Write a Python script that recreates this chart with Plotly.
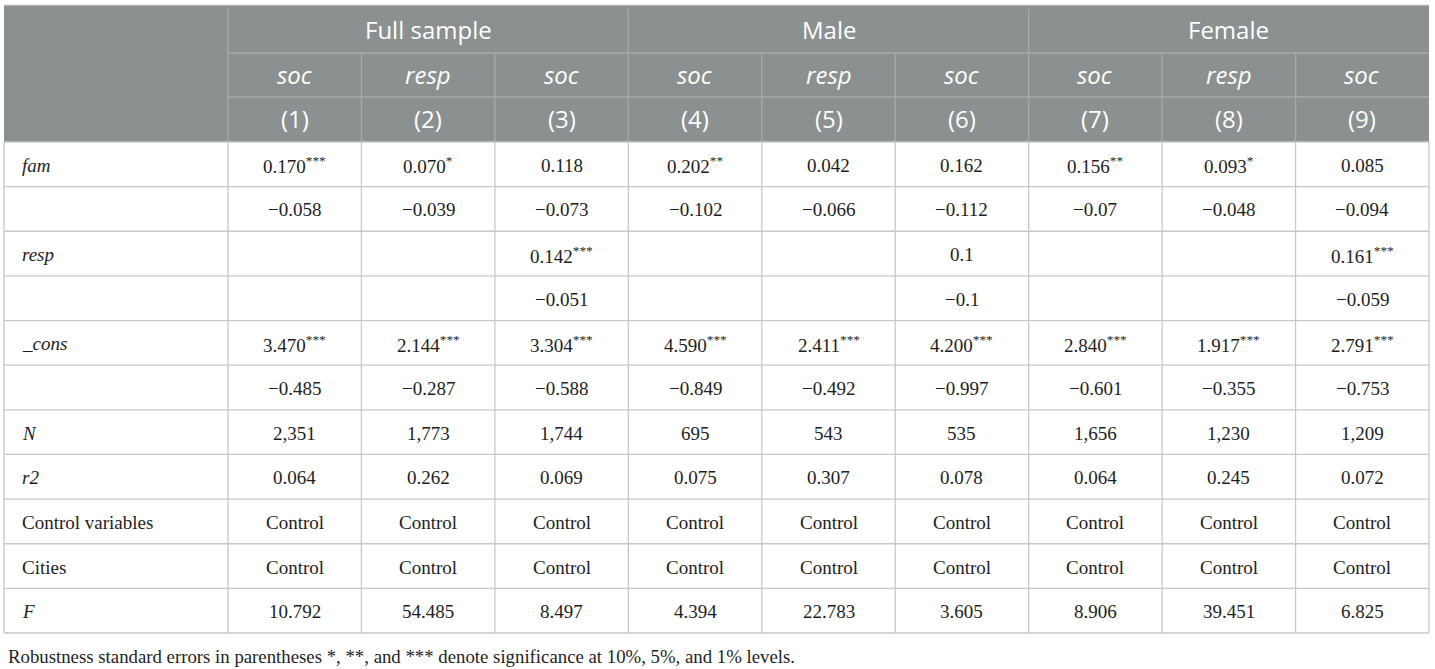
import plotly.graph_objects as go

# ---------------- data ----------------
groups = ["Full sample", "Male", "Female"]
dep_vars = ["soc", "resp", "soc", "soc", "resp", "soc", "soc", "resp", "soc"]
col_nums = ["(1)", "(2)", "(3)", "(4)", "(5)", "(6)", "(7)", "(8)", "(9)"]

row_labels = ["fam", "", "resp", "", "_cons", "", "N", "r2",
              "Control variables", "Cities", "F"]
row_italic = [True, False, True, False, True, False, True, True, False, False, True]

fam_coef = ["0.170***", "0.070*", "0.118", "0.202**", "0.042", "0.162", "0.156**", "0.093*", "0.085"]
fam_se = ["−0.058", "−0.039", "−0.073", "−0.102", "−0.066", "−0.112", "−0.07", "−0.048", "−0.094"]
resp_coef = ["", "", "0.142***", "", "", "0.1", "", "", "0.161***"]
resp_se = ["", "", "−0.051", "", "", "−0.1", "", "", "−0.059"]
cons_coef = ["3.470***", "2.144***", "3.304***", "4.590***", "2.411***", "4.200***", "2.840***", "1.917***", "2.791***"]
cons_se = ["−0.485", "−0.287", "−0.588", "−0.849", "−0.492", "−0.997", "−0.601", "−0.355", "−0.753"]
n_obs = ["2,351", "1,773", "1,744", "695", "543", "535", "1,656", "1,230", "1,209"]
r2 = ["0.064", "0.262", "0.069", "0.075", "0.307", "0.078", "0.064", "0.245", "0.072"]
controls = ["Control"] * 9
cities = ["Control"] * 9
f_stat = ["10.792", "54.485", "8.497", "4.394", "22.783", "3.605", "8.906", "39.451", "6.825"]

footnote = "Robustness standard errors in parentheses *, **, and *** denote significance at 10%, 5%, and 1% levels."

body = [fam_coef, fam_se, resp_coef, resp_se, cons_coef, cons_se, n_obs, r2, controls, cities, f_stat]

# ---------------- layout geometry ----------------
W, H = 1435, 669
X0, X1 = 4, 1429          # table left/right
XC = 228                  # first column right edge
ncol = 9
cw = (X1 - XC) / ncol
hdr_y = [5, 53, 97, 142]  # header row boundaries
Y_END = 633
nrow = len(row_labels)
rh = (Y_END - hdr_y[-1]) / nrow

HDR_BG = "#8b9090"
HDR_LINE = "#a6abab"
BODY_LINE = "#c8c8c8"
TXT = "#1e1e1e"

shapes = []
ann = []

def line(x0, y0, x1, y1, color, w=1.3):
    shapes.append(dict(type="line", xref="x", yref="y", x0=x0, y0=y0, x1=x1, y1=y1,
                       line=dict(color=color, width=w), layer="above"))

# header background
shapes.append(dict(type="rect", xref="x", yref="y", x0=X0, x1=X1, y0=hdr_y[0], y1=hdr_y[3],
                   fillcolor=HDR_BG, line=dict(width=0), layer="below"))

# header lines
line(XC, hdr_y[1], X1, hdr_y[1], HDR_LINE)
line(XC, hdr_y[2], X1, hdr_y[2], HDR_LINE)
for g in range(len(groups)):
    line(XC + 3 * g * cw, hdr_y[0] + 4, XC + 3 * g * cw, hdr_y[3], HDR_LINE)
for c in range(1, ncol):
    if c % 3:
        line(XC + c * cw, hdr_y[1], XC + c * cw, hdr_y[3], HDR_LINE)

# body lines
for r in range(nrow + 1):
    y = hdr_y[3] + r * rh
    line(X0, y, X1, y, BODY_LINE)
for c in range(ncol + 1):
    line(XC + c * cw, hdr_y[3], XC + c * cw, Y_END, BODY_LINE)
line(X0, hdr_y[3], X0, Y_END, BODY_LINE)
# outer top border
line(X0, hdr_y[0], X1, hdr_y[0], "#d5d5d5", 1)

SANS = "Open Sans"
SERIF = "Liberation Serif"

def text(x, y, s, size, color, family, xanchor="center"):
    ann.append(dict(x=x, y=y, xref="x", yref="y", text=s, showarrow=False,
                    xanchor=xanchor, yanchor="middle",
                    font=dict(family=family, size=size, color=color)))

# header text
for g, name in enumerate(groups):
    text(XC + (3 * g + 1.5) * cw, (hdr_y[0] + hdr_y[1]) / 2, name, 24, "white", SANS)
for c in range(ncol):
    xc = XC + (c + 0.5) * cw
    text(xc, (hdr_y[1] + hdr_y[2]) / 2 - 1, "<i>" + dep_vars[c] + "</i>", 24, "white", SANS)
    text(xc, (hdr_y[2] + hdr_y[3]) / 2 - 1, col_nums[c], 24, "white", SANS)

def fmt(s):
    if s.endswith("*"):
        base = s.rstrip("*")
        stars = s[len(base):]
        return base + "<sup>" + stars + "</sup>"
    return s

# body text
for r in range(nrow):
    yc = hdr_y[3] + (r + 0.5) * rh + 1
    lab = row_labels[r]
    if lab:
        text(20, yc, "<i>" + lab + "</i>" if row_italic[r] else lab, 19, TXT, SERIF, "left")
    for c in range(ncol):
        v = body[r][c]
        if v:
            text(XC + (c + 0.5) * cw, yc, fmt(v), 19, TXT, SERIF)

text(6, 656, footnote, 18.8, TXT, SERIF, "left")

fig = go.Figure()
fig.update_layout(
    width=W, height=H,
    margin=dict(l=0, r=0, t=0, b=0),
    paper_bgcolor="white", plot_bgcolor="white",
    xaxis=dict(range=[0, W], visible=False, fixedrange=True),
    yaxis=dict(range=[H, 0], visible=False, fixedrange=True),
    shapes=shapes, annotations=ann, showlegend=False,
)
fig.write_html("out.html", config={"displayModeBar": False},
               post_script="document.body.style.margin='0';document.body.style.overflow='hidden';")
